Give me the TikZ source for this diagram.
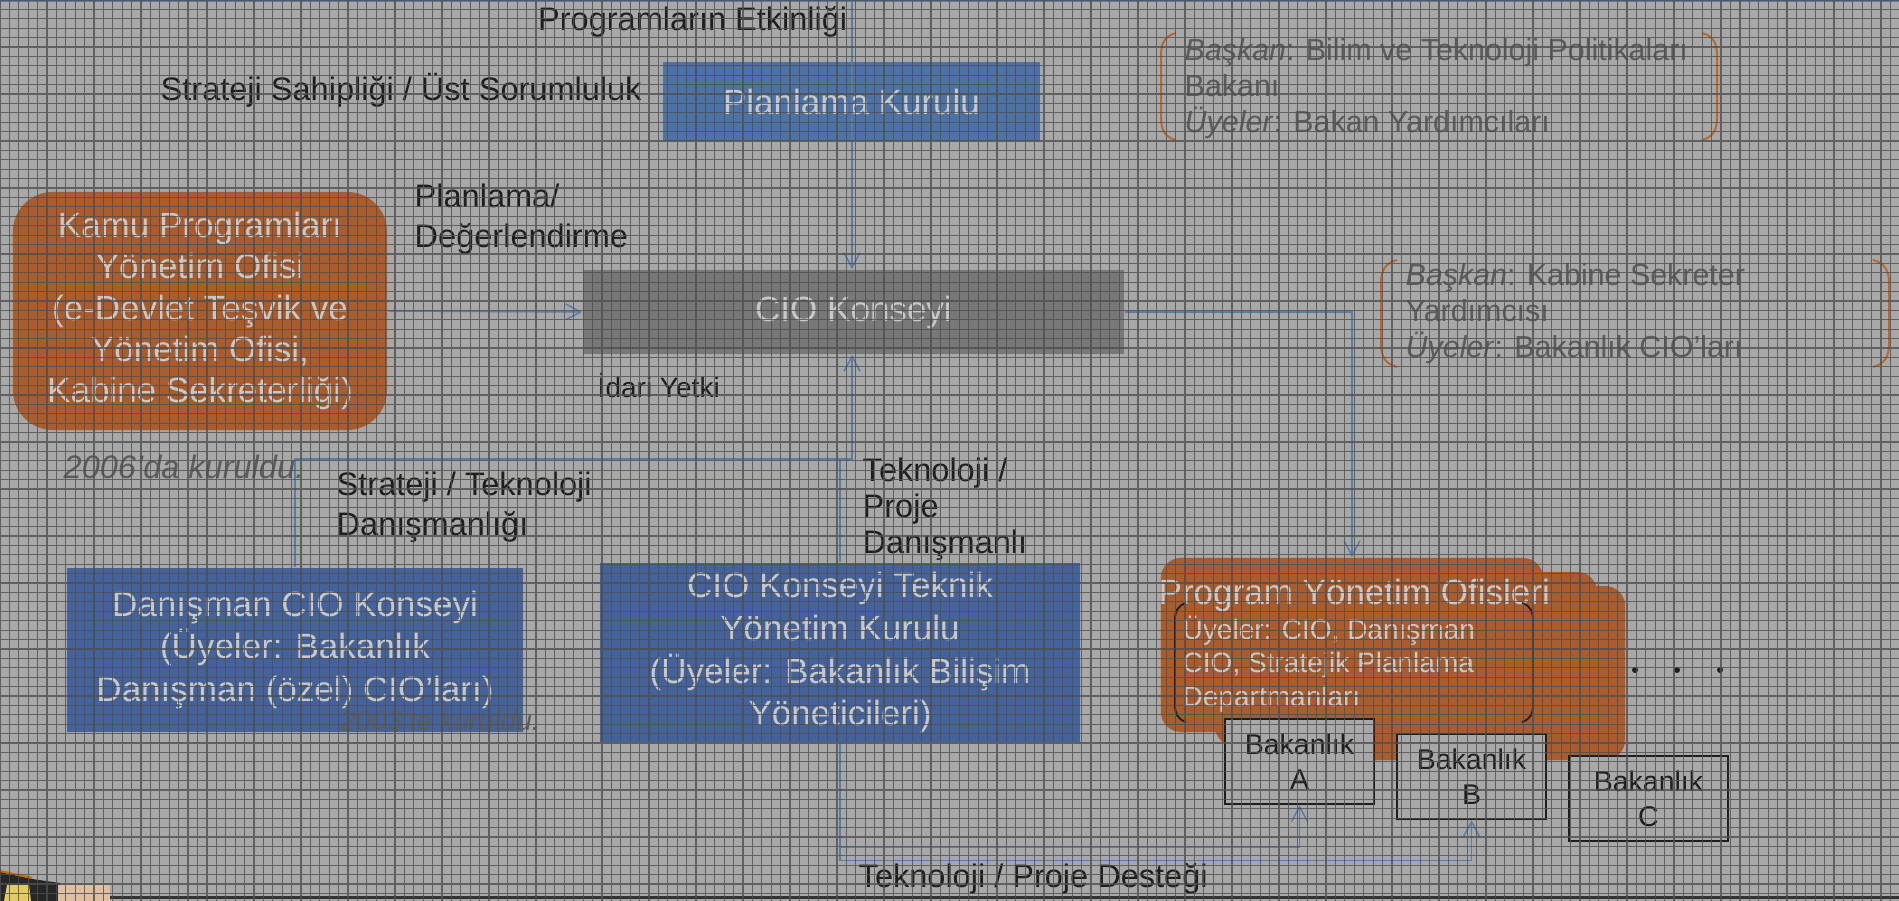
\documentclass[tikz,border=0pt]{standalone}
\usepackage{fontspec}
\setmainfont{Liberation Sans}
\usetikzlibrary{arrows.meta, positioning}
\definecolor{bggray}{HTML}{A8A8A8}
\definecolor{gridgray}{HTML}{4E4E4E}
\definecolor{planblue}{HTML}{4D73A6}
\definecolor{darkblue}{HTML}{44639D}
\definecolor{ciogray}{HTML}{787878}
\definecolor{kamuorange}{HTML}{AA5C2C}
\definecolor{linkblue}{HTML}{5A7CA5}
\definecolor{paletext}{HTML}{C8C8C8}
\definecolor{notegray}{HTML}{5C5C5C}
\definecolor{brkorange}{HTML}{B8692F}
\definecolor{labelblack}{HTML}{1E1E1E}

\begin{document}
\begin{tikzpicture}[x=0.01cm, y=-0.01cm,
    box/.style={rectangle, inner sep=0pt, text=paletext, align=center, font=\fontsize{9.96}{12.2}\selectfont},
    pmobox/.style={rectangle, rounded corners=0.2cm, fill=kamuorange, minimum width=3.82cm, minimum height=1.74cm},
    bakbox/.style={rectangle, draw=labelblack, line width=0.02cm, fill=bggray, inner sep=0pt, minimum height=0.85cm, align=center, text=labelblack, font=\fontsize{8.1}{9.96}\selectfont},
    lbl/.style={inner sep=0pt, text=labelblack, align=left, font=\fontsize{9.25}{11.4}\selectfont},
    note/.style={inner sep=0pt, text=notegray, align=left, font=\fontsize{8.65}{10.25}\selectfont},
    link/.style={draw=linkblue, line width=0.015cm, -{Straight Barb[length=0.15cm,width=0.16cm]}},
    line/.style={draw=linkblue, line width=0.015cm},
    brk/.style={draw=brkorange, line width=0.02cm}]
    \useasboundingbox (0,0) rectangle (1899,901);
    \fill[bggray] (0,0) rectangle (1899,901);

    % Boxes
    \node[box, fill=planblue, minimum width=3.77cm, minimum height=0.79cm] (plan) at (851.5,101.5) {Planlama Kurulu};
    \node[box, fill=ciogray, minimum width=5.41cm, minimum height=0.84cm] (cio) at (853.5,312) {CIO Konseyi};
    \node[box, fill=kamuorange, rounded corners=0.4cm, minimum width=3.74cm, minimum height=2.38cm, font=\fontsize{9.96}{11.7}\selectfont] (kamu) at (200,311)
        {Kamu Programları\\Yönetim Ofisi\\(e-Devlet Teşvik ve\\Yönetim Ofisi,\\Kabine Sekreterliği)};

    % Labels
    \node[lbl, anchor=east] at (848,22) {Programların Etkinliği};
    \node[lbl, anchor=west] at (160,90) {Strateji Sahipliği / Üst Sorumluluk};
    \node[lbl, anchor=west] at (414,219) {Planlama/\\Değerlendirme};
    \node[lbl, anchor=west, font=\fontsize{7.97}{9.5}\selectfont] at (597,385) {İdari Yetki};
    \node[lbl, anchor=west, text=notegray, font=\fontsize{9.25}{11.4}\itshape] at (63,467) {2006’da kuruldu.};
    \node[lbl, anchor=west] at (336,507) {Strateji / Teknoloji\\Danışmanlığı};
    \node[lbl, anchor=south west, font=\fontsize{9.25}{10.2}\selectfont] at (862,561) {Teknoloji /\\Proje\\Danışmanlı};
    \node[lbl, anchor=west] at (858,879) {Teknoloji / Proje Desteği};

    % Lower boxes
    \node[box, fill=darkblue, minimum width=4.56cm, minimum height=1.64cm] (danisman) at (295,650)
        {Danışman CIO Konseyi\\(Üyeler: Bakanlık\\Danışman (özel) CIO’ları)};
    \node[lbl, text=notegray, font=\fontsize{7.97}{9.5}\itshape] at (440,720) {2003’te kuruldu.};
    \node[box, fill=darkblue, minimum width=4.8cm, minimum height=1.79cm] (teknik) at (840,652.5)
        {CIO Konseyi Teknik\\Yönetim Kurulu\\(Üyeler: Bakanlık Bilişim\\Yöneticileri)};

    % Program offices
    \node[pmobox] (pmo3) at (1434,673) {};
    \node[pmobox] (pmo2) at (1406,659) {};
    \node[pmobox] (pmo) at (1352,645) {};
    \node[box, anchor=west] at (1158,595) {Program Yönetim Ofisleri};
    \node[box, anchor=west, align=left, font=\fontsize{7.97}{9.5}\selectfont] at (1182,664)
        {Üyeler: CIO, Danışman\\CIO, Stratejik Planlama\\Departmanları};
    \draw[labelblack, line width=0.018cm] (1186,603) .. controls (1177,606) and (1175,612) .. (1175,620) -- (1175,705) .. controls (1175,713) and (1177,719) .. (1186,722);
    \draw[labelblack, line width=0.018cm] (1522,603) .. controls (1531,606) and (1533,612) .. (1533,620) -- (1533,705) .. controls (1533,713) and (1531,719) .. (1522,722);

    % Ministries
    \node[bakbox, minimum width=1.49cm] (bakA) at (1299.5,761.5) {Bakanlık\\A};
    \node[bakbox, minimum width=1.49cm] (bakB) at (1471.5,776.5) {Bakanlık\\B};
    \node[bakbox, minimum width=1.59cm] (bakC) at (1648.5,798.5) {Bakanlık\\C};
    \foreach \dx in {1635,1677,1720}
        \fill[labelblack] (\dx,670) circle[radius=0.03cm];

    % Member notes
    \node[note, anchor=west] at (1184,89) {\textit{Başkan}: Bilim ve Teknoloji Politikaları\\Bakanı\\\textit{Üyeler}: Bakan Yardımcıları};
    \draw[brk] (1176,33) .. controls (1164,36) and (1161,44) .. (1161,56) -- (1161,117) .. controls (1161,129) and (1164,137) .. (1176,140);
    \draw[brk] (1702,33) .. controls (1714,36) and (1717,44) .. (1717,56) -- (1717,117) .. controls (1717,129) and (1714,137) .. (1702,140);
    \node[note, anchor=west] at (1405,314) {\textit{Başkan}: Kabine Sekreter\\Yardımcısı\\\textit{Üyeler}: Bakanlık CIO’ları};
    \draw[brk] (1397,260) .. controls (1385,263) and (1381,271) .. (1381,283) -- (1381,344) .. controls (1381,356) and (1385,364) .. (1397,367);
    \draw[brk] (1873,260) .. controls (1885,263) and (1889,271) .. (1889,283) -- (1889,344) .. controls (1889,356) and (1885,364) .. (1873,367);

    % Arrows
    \coordinate (ptop) at (852,0);
    \coordinate (join) at (852,459);
    \draw[line] (0,1) -- (1899,1);
    \draw[link] (ptop) -- (ptop |- cio.north);
    \draw[link] (kamu.east) -- (cio.west);
    \draw[line] (danisman.north) |- (join);
    \draw[link] (teknik.north) |- (join) -- (join |- cio.south);
    \draw[link] (cio.east) -| (pmo.north);
    \draw[link] (teknik.south) -- ++(0,105) -| (bakA.south);
    \draw[link] (teknik.south) -- ++(0,118) -| (bakB.south);

    % Bottom rule and corner picture
    \fill[black!85] (0,872) -- (32,879) -- (34,901) -- (0,901) -- cycle;
    \fill[black!85] (32,879) -- (60,883) -- (60,901) -- (32,901) -- cycle;
    \fill[brown!60!yellow!70] (7,885) -- (29,885) -- (31,901) -- (4,901) -- cycle;
    \fill[brown!50!white] (58,885) rectangle (110,901);
    \draw[orange!80!black, line width=0.02cm] (0,871) -- (32,878);
    \draw[black!80, line width=0.03cm] (110,898) -- (1899,898);

    % Screen grid over everything
    \draw[gridgray, line width=0.012cm, opacity=0.8] (0,901) grid[step=0.094cm] (1899,0);
\end{tikzpicture}
\end{document}
